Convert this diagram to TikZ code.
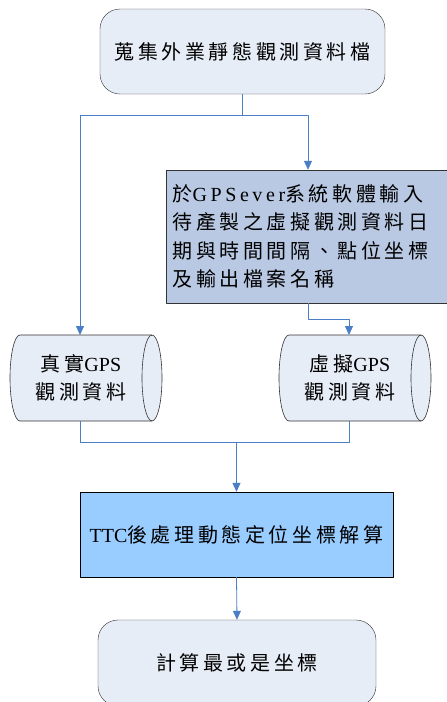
\documentclass[tikz,border=0pt]{standalone}
\usepackage{fontspec}
\setmainfont{Liberation Serif}
\newfontfamily\cjk[LetterSpace=18]{Noto Sans CJK TC}
\newfontfamily\widelatin[LetterSpace=18]{Liberation Serif}
\usetikzlibrary{arrows.meta}
\definecolor{linkblue}{HTML}{4A7EC7}
\definecolor{paleblue}{HTML}{E7EDF7}
\definecolor{steelbox}{HTML}{B9C9E3}
\definecolor{skybox}{HTML}{99CCFF}
\begin{document}
\begin{tikzpicture}[x=1pt,y=-1pt,line join=round,
		font=\fontsize{20}{28.5}\selectfont,
		endbox/.style={draw=black!80,fill=paleblue,rounded corners=20pt,minimum width=285pt,minimum height=85pt,inner sep=0pt},
		stepbox/.style={draw=black!80,fill=steelbox,minimum width=284pt,minimum height=133pt,inner sep=0pt},
		calcbox/.style={draw=black,fill=skybox,minimum width=313pt,minimum height=85pt,inner sep=0pt},
		drum/.style={draw=black!80,fill=paleblue,line width=0.6pt},
		link/.style={draw=linkblue,line width=0.8pt,-{Triangle[width=8pt,length=9pt]}},
		pics/datadrum/.style={code={
			\path[drum] (66,-43) -- (-66,-43) arc[start angle=270,end angle=90,x radius=10,y radius=43]
				-- (66,43) arc[start angle=90,end angle=-90,x radius=10,y radius=43] -- cycle;
			\draw[drum,fill=none] (66,-43) arc[start angle=270,end angle=90,x radius=10,y radius=43];
		}}]
	\useasboundingbox (0,0) rectangle (447,702);
	\begin{scope}
		\clip (0,0) rectangle (447,702);
		\node[endbox] (collect) at (242.5,51.5) {{\cjk 蒐集外業靜態觀測資料檔}};
		\node[stepbox] (input) at (308,236.5) {};
		\node[anchor=west,align=left] (inputtext) at (169,236.5) {{\cjk 於}{\widelatin GPSever}{\cjk 系統軟體輸入}\\{\cjk 待產製之虛擬觀測資料日}\\{\cjk 期與時間間隔、點位坐標}\\{\cjk 及輸出檔案名稱}};
		\pic at (86,378) {datadrum};
		\node[align=center] (realtext) at (81,378) {{\cjk 真實}GPS\\{\cjk 觀測資料}};
		\pic at (355,378) {datadrum};
		\node[align=center] (virttext) at (350,378) {{\cjk 虛擬}GPS\\{\cjk 觀測資料}};
		\node[calcbox] (solve) at (236.5,534.5) {TTC{\cjk 後處理動態定位坐標解算}};
		\node[endbox,minimum width=278pt,minimum height=86pt] (result) at (237,663) {{\cjk 計算最或是坐標}};
	\end{scope}
	% connectors
	\coordinate (realin) at (80,335);
	\coordinate (virtin) at (349,335);
	\coordinate (realout) at (80,421);
	\coordinate (virtout) at (349,421);
	\draw[link] (collect.south) -- ++(0,21) -| (input.north);
	\draw[link] (collect.south) -- ++(0,21) -| (realin);
	\draw[link] (input.south) -- ++(0,16) -| (virtin);
	\draw[draw=linkblue,line width=0.8pt] (realout) -- ++(0,21) -| (virtout);
	\draw[link] (realout) ++(0,21) -| (solve.north);
	\draw[link] (solve.south) -- (result.north);
\end{tikzpicture}
\end{document}
